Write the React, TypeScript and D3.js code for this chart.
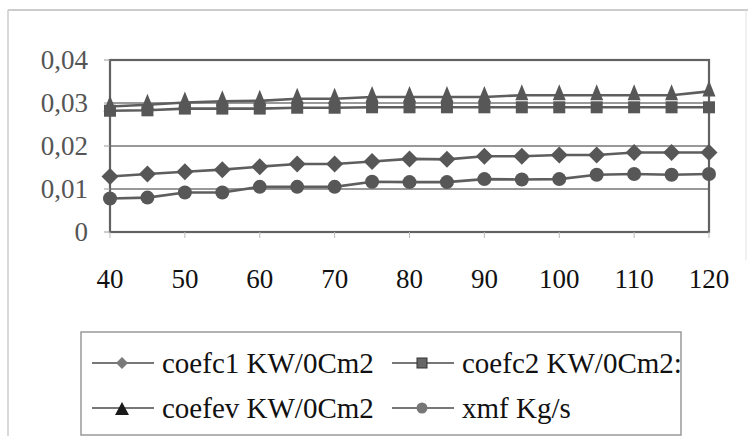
import React from "react";
import * as d3 from "d3";

const xValues = [40, 45, 50, 55, 60, 65, 70, 75, 80, 85, 90, 95, 100, 105, 110, 115, 120];
const coefc1 = [0.0129, 0.0135, 0.014, 0.0145, 0.0152, 0.0158, 0.0158, 0.0164, 0.017, 0.0169, 0.0176, 0.0176, 0.0179, 0.0179, 0.0185, 0.0185, 0.0185];
const coefc2 = [0.0282, 0.0283, 0.0287, 0.0287, 0.0287, 0.0289, 0.0289, 0.029, 0.029, 0.029, 0.029, 0.029, 0.029, 0.029, 0.029, 0.029, 0.029];
const coefev = [0.0292, 0.0296, 0.0301, 0.0304, 0.0305, 0.031, 0.031, 0.0314, 0.0314, 0.0314, 0.0314, 0.0318, 0.0318, 0.0318, 0.0318, 0.0318, 0.0327];
const xmf = [0.0078, 0.008, 0.0092, 0.0092, 0.0105, 0.0105, 0.0105, 0.0117, 0.0116, 0.0116, 0.0123, 0.0122, 0.0123, 0.0133, 0.0135, 0.0133, 0.0135];
const xTicks = [40, 50, 60, 70, 80, 90, 100, 110, 120];
const yTicks = [0, 0.01, 0.02, 0.03, 0.04];
const yTickLabels = ["0", "0,01", "0,02", "0,03", "0,04"];
const seriesNames = ["coefc1 KW/0Cm2", "coefc2 KW/0Cm2:", "coefev KW/0Cm2", "xmf Kg/s"];

type Shape = "diamond" | "square" | "triangle" | "circle";
const series: { name: string; values: number[]; shape: Shape }[] = [
  { name: seriesNames[0], values: coefc1, shape: "diamond" },
  { name: seriesNames[1], values: coefc2, shape: "square" },
  { name: seriesNames[2], values: coefev, shape: "triangle" },
  { name: seriesNames[3], values: xmf, shape: "circle" },
];

const LINE = "#5e5e5e";
const MARK = "#575757";
const FONT = "'Liberation Serif', 'Times New Roman', serif";

function Marker({ shape, x, y, legend }: { shape: Shape; x: number; y: number; legend?: boolean }) {
  if (legend) {
    if (shape === "diamond") {
      const r = 6;
      return <path d={`M${x},${y - r}L${x + r},${y}L${x},${y + r}L${x - r},${y}Z`} fill="#7a7a7a" />;
    }
    if (shape === "square") {
      return <rect x={x - 5} y={y - 5} width={10} height={10} fill="#666" stroke="#333" strokeWidth={1} />;
    }
    if (shape === "triangle") {
      return <path d={`M${x},${y - 6}L${x + 7},${y + 7}L${x - 7},${y + 7}Z`} fill="#1a1a1a" />;
    }
    return <circle cx={x} cy={y} r={5.5} fill="#777" />;
  }
  if (shape === "diamond") {
    const r = 8.5;
    return <path d={`M${x},${y - r}L${x + r},${y}L${x},${y + r}L${x - r},${y}Z`} fill={MARK} />;
  }
  if (shape === "square") {
    const s = 12;
    return <rect x={x - s / 2} y={y - s / 2} width={s} height={s} fill={MARK} />;
  }
  if (shape === "triangle") {
    const w = 13;
    const h = 16;
    return <path d={`M${x},${y - h / 2 - 3}L${x + w / 2},${y + h / 2 - 3}L${x - w / 2},${y + h / 2 - 3}Z`} fill={MARK} />;
  }
  return <circle cx={x} cy={y} r={7} fill={MARK} />;
}

export default function App() {
  const x = d3.scaleLinear().domain([40, 120]).range([110, 709]);
  const y = d3.scaleLinear().domain([0, 0.04]).range([232, 60]);
  const line = d3
    .line<number>()
    .x((_, i) => x(xValues[i]))
    .y((d) => y(d));

  const legendItems = [
    { s: series[0], lx: 92, ty: 363 },
    { s: series[1], lx: 392, ty: 363 },
    { s: series[2], lx: 92, ty: 408 },
    { s: series[3], lx: 392, ty: 408 },
  ];

  return (
    <svg
      width={748}
      height={436}
      style={{ position: "absolute", left: 0, top: 0, background: "#fff" }}
      fontFamily={FONT}
    >
      <rect x={0} y={0} width={748} height={436} fill="#fff" />
      {/* outer chart border */}
      <line x1={8} y1={10} x2={748} y2={10} stroke="#bbb" strokeWidth={1.5} />
      <line x1={8} y1={10} x2={8} y2={436} stroke="#ccc" strokeWidth={1.5} />
      <line x1={746} y1={10} x2={746} y2={260} stroke="#e2e2e2" strokeWidth={1} />

      {/* gridlines */}
      {yTicks.slice(1, -1).map((t) => (
        <line key={t} x1={x(40)} x2={x(120)} y1={y(t)} y2={y(t)} stroke="#777" strokeWidth={1.3} />
      ))}
      {/* plot frame */}
      <rect x={x(40)} y={y(0.04)} width={x(120) - x(40)} height={y(0) - y(0.04)} fill="none" stroke="#626262" strokeWidth={2.2} />
      {/* y tick marks */}
      {yTicks.map((t) => (
        <line key={t} x1={x(40) - 6} x2={x(40)} y1={y(t)} y2={y(t)} stroke="#999" strokeWidth={1} />
      ))}
      {/* x tick marks */}
      {xTicks.map((t) => (
        <line key={t} x1={x(t)} x2={x(t)} y1={y(0)} y2={y(0) + 6} stroke="#bbb" strokeWidth={1} />
      ))}

      {/* y labels */}
      {yTicks.map((t, i) => (
        <text key={t} x={88} y={y(t)} dy="0.35em" textAnchor="end" fontSize={27} fill="#555">
          {yTickLabels[i]}
        </text>
      ))}
      {/* x labels */}
      {xTicks.map((t) => (
        <text key={t} x={x(t)} y={279} dy="0.35em" textAnchor="middle" fontSize={27} fill="#111">
          {t}
        </text>
      ))}

      {/* series */}
      {series.map((s) => (
        <g key={s.name}>
          <path d={line(s.values) || ""} fill="none" stroke={LINE} strokeWidth={2.6} />
          {s.values.map((v, i) => (
            <Marker key={i} shape={s.shape} x={x(xValues[i])} y={y(v)} />
          ))}
        </g>
      ))}

      {/* legend */}
      <defs>
        <clipPath id="legclip">
          <rect x={81} y={332} width={600} height={104} />
        </clipPath>
      </defs>
      <rect x={81} y={332} width={600} height={103} fill="none" stroke="#999" strokeWidth={1.5} />
      <g clipPath="url(#legclip)">
        {legendItems.map(({ s, lx, ty }) => (
          <g key={s.name}>
            <line x1={lx} x2={lx + 62} y1={ty} y2={ty} stroke="#777" strokeWidth={1.8} />
            <Marker shape={s.shape} x={lx + 30} y={ty} legend />
            <text x={lx + 70} y={ty} dy="0.35em" fontSize={29} fill="#111">
              {s.name}
            </text>
          </g>
        ))}
      </g>
    </svg>
  );
}
